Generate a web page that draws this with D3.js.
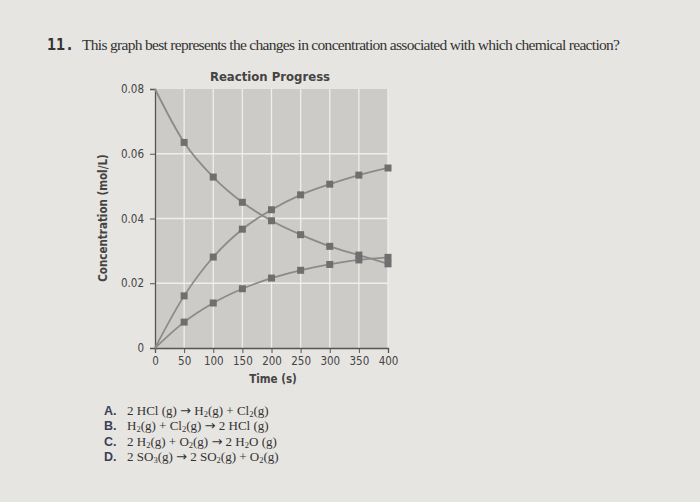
<!DOCTYPE html>
<html>
<head>
<meta charset="utf-8">
<script src="https://cdn.jsdelivr.net/npm/d3@7"></script>
<style>
  body { margin: 0; background: #e7e5e1; }
  svg { display: block; }
</style>
</head>
<body>
<div id="chart"></div>
<script>
// data
const times = [0, 50, 100, 150, 200, 250, 300, 350, 400];
const falling = [0.08, 0.0635, 0.0528, 0.045, 0.0393, 0.035, 0.0314, 0.0287, 0.026];
const risingHigh = [0, 0.0161, 0.0281, 0.0367, 0.0427, 0.0473, 0.0506, 0.0534, 0.0556];
const risingLow = [0, 0.008, 0.0139, 0.0183, 0.0216, 0.024, 0.0258, 0.0272, 0.028];
const yTicks = [0, 0.02, 0.04, 0.06, 0.08];
const xTicks = [0, 50, 100, 150, 200, 250, 300, 350, 400];

const answers = [
  {letter: "A.", parts: [["2 HCl (g) "], ["\u2192", "arr"], [" H"], ["2", "sub"], ["(g) + Cl"], ["2", "sub"], ["(g)"]]},
  {letter: "B.", parts: [["H"], ["2", "sub"], ["(g) + Cl"], ["2", "sub"], ["(g) "], ["\u2192", "arr"], [" 2 HCl (g)"]]},
  {letter: "C.", parts: [["2 H"], ["2", "sub"], ["(g) + O"], ["2", "sub"], ["(g) "], ["\u2192", "arr"], [" 2 H"], ["2", "sub"], ["O (g)"]]},
  {letter: "D.", parts: [["2 SO"], ["3", "sub"], ["(g) "], ["\u2192", "arr"], [" 2 SO"], ["2", "sub"], ["(g) + O"], ["2", "sub"], ["(g)"]]}
];

const W = 700, H = 502;
const plot = {left: 155, right: 388, top: 89, bottom: 348};
const narrow = "'DejaVu Sans Condensed', 'Liberation Sans Narrow', Arial, sans-serif";
const serif = "'Liberation Serif', 'Times New Roman', serif";

const svg = d3.select("#chart").append("svg")
    .attr("width", W)
    .attr("height", H);

svg.append("rect").attr("width", W).attr("height", H).attr("fill", "#e7e5e1");

// question
svg.append("text")
    .attr("x", 47).attr("y", 50)
    .style("font-family", "'DejaVu Sans Mono', monospace")
    .style("font-weight", "bold")
    .style("font-size", "15px")
    .attr("fill", "#333")
    .text("11.");
svg.append("text")
    .attr("x", 82).attr("y", 50)
    .style("font-family", serif)
    .style("font-size", "15.5px")
    .attr("fill", "#333")
    .attr("textLength", 538)
    .text("This graph best represents the changes in concentration associated with which chemical reaction?");

const x = d3.scaleLinear().domain([0, 400]).range([plot.left, plot.right]);
const y = d3.scaleLinear().domain([0, 0.08]).range([plot.bottom, plot.top]);

// plot background
svg.append("rect")
    .attr("x", x(0)).attr("y", y(0.08))
    .attr("width", x(400) - x(0))
    .attr("height", y(0) - y(0.08))
    .attr("fill", "#cdcbc7");

// grid
svg.append("g").selectAll("line")
    .data(xTicks.slice(1))
    .join("line")
        .attr("x1", d => x(d)).attr("x2", d => x(d))
        .attr("y1", y(0)).attr("y2", y(0.08))
        .attr("stroke", "#eeeeec").attr("stroke-width", 1.3);
svg.append("g").selectAll("line")
    .data(yTicks.slice(1, -1))
    .join("line")
        .attr("x1", x(0)).attr("x2", x(400))
        .attr("y1", d => y(d)).attr("y2", d => y(d))
        .attr("stroke", "#eeeeec").attr("stroke-width", 1.3);

// axes
const xAxis = svg.append("g")
    .attr("transform", `translate(0, ${plot.bottom})`)
    .call(d3.axisBottom(x).tickValues(xTicks).tickSize(5).tickPadding(4).tickFormat(d3.format("d")));
const yAxis = svg.append("g")
    .attr("transform", `translate(${plot.left}, 0)`)
    .call(d3.axisLeft(y).tickValues(yTicks).tickSize(5).tickPadding(6)
        .tickFormat(d => d === 0 ? "0" : d3.format(".2f")(d)));

[xAxis, yAxis].forEach(g => {
    g.select(".domain").attr("stroke", "#555").attr("stroke-width", 1.3);
    g.selectAll(".tick line").attr("stroke", "#555");
    g.selectAll("text")
        .style("font-family", narrow)
        .style("font-size", "11.5px")
        .attr("fill", "#444");
});

// series
const series = [falling, risingHigh, risingLow];
const line = d3.line()
    .x((d, i) => x(times[i]))
    .y(d => y(d))
    .curve(d3.curveMonotoneX);

svg.append("g").selectAll("path")
    .data(series)
    .join("path")
        .attr("d", line)
        .attr("fill", "none")
        .attr("stroke", "#8b8b8b")
        .attr("stroke-width", 1.8);

const marks = series.flatMap(s => s.map((v, i) => ({t: times[i], v})).filter(d => d.t > 0));
svg.append("g").selectAll("rect")
    .data(marks)
    .join("rect")
        .attr("x", d => x(d.t) - 3.5)
        .attr("y", d => y(d.v) - 3.5)
        .attr("width", 7).attr("height", 7)
        .attr("fill", "#6f6f6f");

// titles
svg.append("text")
    .attr("x", 270).attr("y", 81)
    .attr("text-anchor", "middle")
    .style("font-family", narrow)
    .style("font-weight", "bold")
    .style("font-size", "13px")
    .attr("fill", "#444")
    .text("Reaction Progress");
svg.append("text")
    .attr("x", 273).attr("y", 383)
    .attr("text-anchor", "middle")
    .style("font-family", narrow)
    .style("font-weight", "bold")
    .style("font-size", "11.5px")
    .attr("fill", "#444")
    .text("Time (s)");
svg.append("text")
    .attr("transform", "translate(107, 218) rotate(-90)")
    .attr("text-anchor", "middle")
    .style("font-family", narrow)
    .style("font-weight", "bold")
    .style("font-size", "11.5px")
    .attr("fill", "#444")
    .text("Concentration (mol/L)");

// answer choices
const ans = svg.append("g").selectAll("g")
    .data(answers)
    .join("g")
        .attr("transform", (d, i) => `translate(104, ${415 + i * 15.3})`);
ans.append("text")
    .style("font-family", "'Liberation Sans', Arial, sans-serif")
    .style("font-weight", "bold")
    .style("font-size", "12.5px")
    .attr("fill", "#3a3f55")
    .text(d => d.letter);
const eq = ans.append("text")
    .attr("x", 23)
    .style("font-family", serif)
    .style("font-size", "13px")
    .attr("fill", "#333");
eq.selectAll("tspan")
    .data(d => d.parts)
    .join("tspan")
        .attr("dy", p => p[1] === "sub" ? 2 : null)
        .style("font-size", p => p[1] === "sub" ? "8.5px" : null)
        .style("font-family", p => p[1] === "arr" ? "'DejaVu Sans', sans-serif" : null)
        .text(p => p[0])
    .filter(p => p[1] === "sub")
    .each(function() {
        // return to the baseline after a subscript
        d3.select(this.nextSibling).attr("dy", -2);
    });
</script>
</body>
</html>
